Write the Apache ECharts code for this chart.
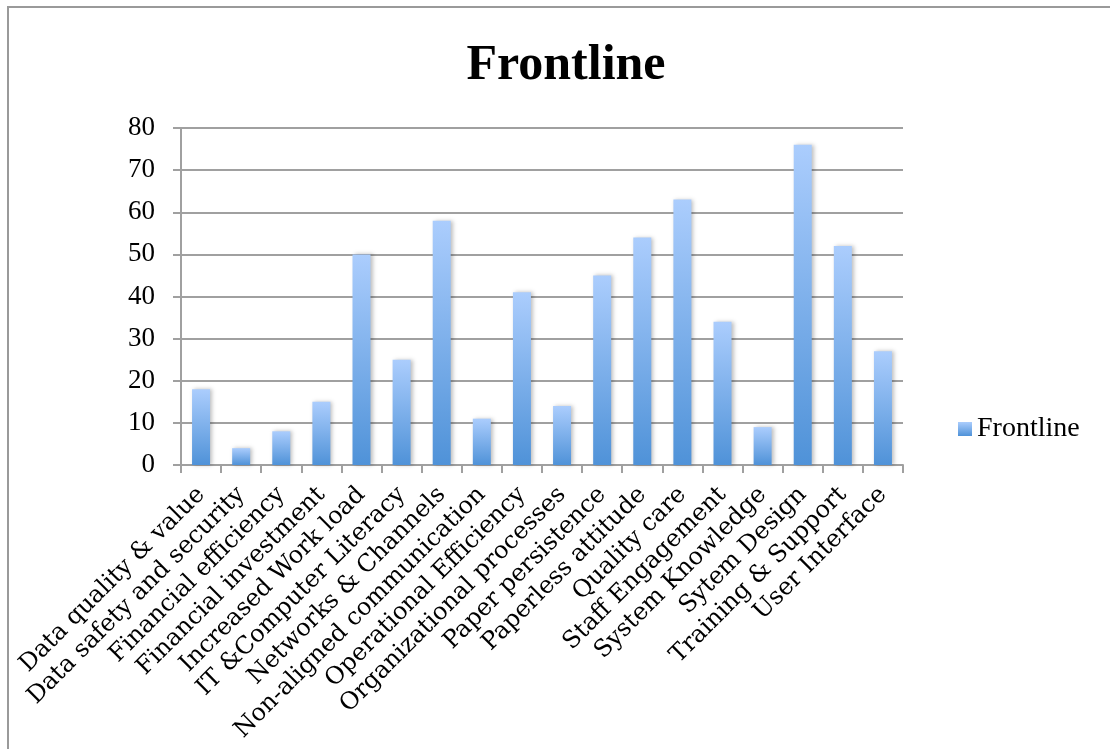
<!DOCTYPE html>
<html>
<head>
<meta charset="utf-8">
<style>
  html, body { margin: 0; padding: 0; background: #fff; }
  #chart { width: 1110px; height: 749px; }
</style>
<script src="https://cdn.jsdelivr.net/npm/echarts@6/dist/echarts.min.js"></script>
</head>
<body>
<div id="chart"></div>
<script>
// categories along x axis
const categories = [
  'Data quality & value', 'Data safety and security', 'Financial efficiency',
  'Financial investment', 'Increased Work load', 'IT &Computer Literacy',
  'Networks & Channels', 'Non-aligned communication', 'Operational Efficiency',
  'Organizational processes', 'Paper persistence', 'Paperless attitude',
  'Quality care', 'Staff Engagement', 'System Knowledge', 'Sytem Design',
  'Training & Support', 'User Interface'
];
// Frontline values
const frontline = [18, 4, 8, 15, 50, 25, 58, 11, 41, 14, 45, 54, 63, 34, 9, 76, 52, 27];
const yTicks = [0, 10, 20, 30, 40, 50, 60, 70, 80];

const font = '"Liberation Serif", serif';
const labelFont = '"DejaVu Serif", serif';
const gridColor = '#a0a0a0';

const barGradient = new echarts.graphic.LinearGradient(0, 0, 0, 1, [
  { offset: 0, color: '#abcdfd' },
  { offset: 1, color: '#4f92d8' }
]);

const chart = echarts.init(document.getElementById('chart'));

const option = {
  animation: false,
  backgroundColor: '#fff',
  title: {
    text: 'Frontline',
    left: 561,
    top: 36,
    textAlign: 'center',
    textStyle: { fontFamily: font, fontSize: 50, fontWeight: 'bold', color: '#000' }
  },
  legend: {
    orient: 'vertical',
    left: 953,
    top: 410,
    icon: 'rect',
    itemWidth: 14,
    itemHeight: 14,
    itemGap: 6,
    textStyle: { fontFamily: font, fontSize: 28, color: '#000' },
    data: ['Frontline']
  },
  grid: { left: 181, right: 207, top: 128, bottom: 284, containLabel: false },
  xAxis: {
    type: 'category',
    data: categories,
    axisLine: { lineStyle: { color: gridColor, width: 2 } },
    axisTick: { show: true, length: 8, lineStyle: { color: gridColor, width: 2 } },
    axisLabel: {
      rotate: 45,
      interval: 0,
      margin: 26,
      fontFamily: labelFont,
      fontSize: 24,
      color: '#000'
    }
  },
  yAxis: {
    type: 'value',
    min: 0,
    max: 80,
    interval: 10,
    axisLine: { show: true, lineStyle: { color: gridColor, width: 2 } },
    axisTick: { show: true, length: 8, lineStyle: { color: gridColor, width: 2 } },
    splitLine: { lineStyle: { color: gridColor, width: 2 } },
    axisLabel: {
      margin: 26,
      fontFamily: font,
      fontSize: 27,
      color: '#000',
      formatter: v => (yTicks.includes(v) ? String(v) : '')
    }
  },
  series: [
    {
      name: 'Frontline',
      type: 'bar',
      data: frontline,
      barWidth: 18,
      itemStyle: {
        color: barGradient,
        shadowColor: 'rgba(0,0,0,0.25)',
        shadowBlur: 4,
        shadowOffsetX: 2
      }
    }
  ],
  graphic: [
    {
      type: 'rect',
      shape: { x: 8, y: 7, width: 1200, height: 800 },
      style: { fill: 'none', stroke: '#9a9a9a', lineWidth: 2 },
      z: -1
    }
  ]
};

chart.setOption(option);
</script>
</body>
</html>
